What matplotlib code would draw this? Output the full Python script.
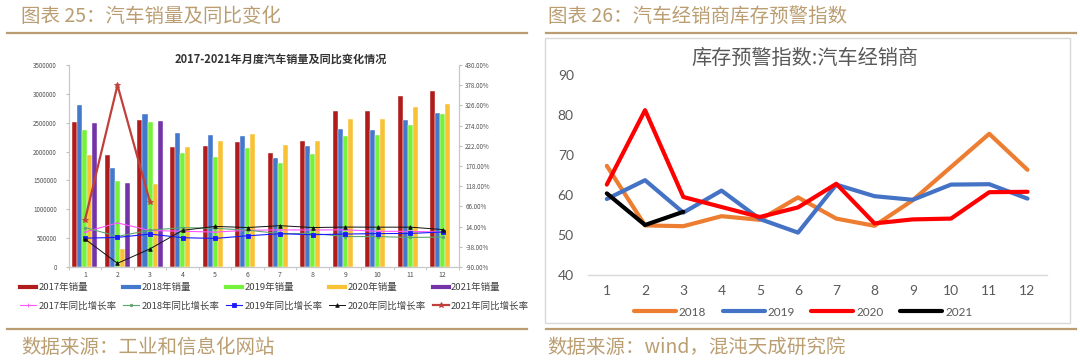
import matplotlib
matplotlib.use("Agg")
import matplotlib.pyplot as plt
from matplotlib.lines import Line2D
from matplotlib.patches import Rectangle
import numpy as np

plt.rcParams['font.family'] = ['Noto Sans CJK SC', 'DejaVu Sans']

W, H = 1080, 361

# ---- left chart data: monthly car sales and YoY growth ----
months = list(range(1, 13))
sales_2017 = [2518000, 1937000, 2542000, 2078000, 2092000, 2167000, 1969000, 2186000, 2710000, 2706000, 2960000, 3055000]
sales_2018 = [2810000, 1720000, 2653000, 2319000, 2288000, 2274000, 1888000, 2101000, 2394000, 2380000, 2548000, 2661000]
sales_2019 = [2367000, 1482000, 2520000, 1981000, 1913000, 2056000, 1805000, 1958000, 2271000, 2286000, 2458000, 2650000]
sales_2020 = [1941000, 310000, 1430000, 2073000, 2190000, 2301000, 2112000, 2188000, 2565000, 2573000, 2768000, 2832000]
sales_2021 = [2503000, 1455000, 2526000]

growth_2017 = [0.2, 23.5, 4.0, 2.0, -0.1, 4.5, 5.4, 5.3, 5.7, 1.9, 1.8, -0.1]
growth_2018 = [11.6, -11.1, 4.7, 11.5, 9.6, 4.8, -4.0, -3.8, -11.6, -11.7, -13.9, -13.0]
growth_2019 = [-15.8, -13.8, -5.2, -14.6, -16.4, -9.6, -4.3, -6.9, -5.2, -4.0, -3.6, 0.1]
growth_2020 = [-18.0, -80.5, -43.3, 4.4, 14.5, 11.6, 16.4, 11.6, 12.8, 12.5, 12.6, 6.4]
growth_2021 = [31.0, 378.0, 77.0]

# ---- right chart data: dealer inventory warning index ----
index_2018 = [67.3, 52.4, 52.2, 54.7, 53.8, 59.4, 54.1, 52.3, 58.7, 67.0, 75.3, 66.3]
index_2019 = [59.0, 63.7, 55.6, 61.1, 54.0, 50.6, 62.6, 59.7, 58.8, 62.6, 62.7, 59.1]
index_2020 = [62.6, 81.2, 59.5, 57.0, 54.5, 56.9, 62.8, 52.9, 53.9, 54.1, 60.7, 60.8]
index_2021 = [60.4, 52.5, 55.8]

TAN = '#BA9E72'
GRAY = '#595959'


def fx(x):
    return x / W


def fy(y):
    return 1 - y / H


fig = plt.figure(figsize=(W / 100, H / 100), dpi=100)

# ---- frame decorations ----
for x0, x1 in [(7, 527), (546, 1076)]:
    fig.add_artist(Line2D([fx(x0), fx(x1)], [fy(32.5), fy(32.5)], color=TAN, lw=1.6,
                          transform=fig.transFigure))
    fig.add_artist(Line2D([fx(x0), fx(x1)], [fy(328.5), fy(328.5)], color=TAN, lw=1.6,
                          transform=fig.transFigure))
fig.add_artist(Rectangle((fx(545), fy(323)), fx(1070) - fx(545), fy(38) - fy(323),
                         fill=False, edgecolor='#D9D9D9', lw=1, transform=fig.transFigure))

head = dict(fontsize=14, color=TAN, va='center', fontweight='light')
fig.text(fx(21), fy(16), '图表 25：汽车销量及同比变化', **head)
fig.text(fx(548), fy(16), '图表 26：汽车经销商库存预警指数', **head)
fig.text(fx(21), fy(347), '数据来源：工业和信息化网站', **head)
fig.text(fx(547), fy(347), '数据来源：wind，混沌天成研究院', **head)

# ---- left chart ----
ax = fig.add_axes([fx(68.7), fy(267), fx(459) - fx(68.7), fy(65) - fy(267)])
ax2 = ax.twinx()

bar_cols = ['#B01C1C', '#4478CC', '#77F23A', '#F9C235', '#7434A8']
bar_sets = [sales_2017, sales_2018, sales_2019, sales_2020, sales_2021]
bar_names = ['2017年销量', '2018年销量', '2019年销量', '2020年销量', '2021年销量']
bw = 0.154
for i, (vals, c) in enumerate(zip(bar_sets, bar_cols)):
    xs = np.arange(1, len(vals) + 1) + (i - 2) * bw
    ax.bar(xs, vals, width=bw, color=c, edgecolor='white', linewidth=0.3)

line_sets = [growth_2017, growth_2018, growth_2019, growth_2020, growth_2021]
line_cols = ['#FF55FF', '#5FA56F', '#1A1AFF', '#111111', '#C0403A']
line_mk = ['+', 'o', 's', '^', '*']
line_ms = [3, 1.8, 2.6, 2.6, 4]
line_lw = [0.8, 0.8, 0.8, 0.7, 1.6]
line_names = ['2017年同比增长率', '2018年同比增长率', '2019年同比增长率', '2020年同比增长率', '2021年同比增长率']
for vals, c, m, ms, lw in zip(line_sets, line_cols, line_mk, line_ms, line_lw):
    ax2.plot(np.arange(1, len(vals) + 1), vals, color=c, lw=lw, marker=m, ms=ms, mew=0.6)

ax.set_xlim(0.5, 12.5)
ax.set_ylim(0, 3500000)
ax.set_yticks(np.arange(0, 3500001, 500000))
ax.set_yticklabels([str(v) for v in range(0, 3500001, 500000)])
ax.set_xticks(months)
ax.set_xticks(np.arange(0.5, 12.6, 1), minor=True)
ax.tick_params(axis='x', which='major', length=0, pad=3, labelsize=5, labelcolor='#505050')
ax.tick_params(axis='x', which='minor', length=2.5, color='#BFBFBF')
ax.tick_params(axis='y', length=2.5, color='#BFBFBF', pad=6, labelsize=4.5, labelcolor='#505050')

ax2.set_ylim(-90, 430)
r_ticks = np.arange(-90, 431, 52)
ax2.set_yticks(r_ticks)
ax2.set_yticklabels(['%.2f%%' % v for v in r_ticks])
ax2.tick_params(axis='y', length=2.5, color='#BFBFBF', pad=2, labelsize=4.5, labelcolor='#505050')

for a in (ax, ax2):
    a.spines['top'].set_visible(False)
    for s in ('left', 'right', 'bottom'):
        a.spines[s].set_color('#C8C8C8')
        a.spines[s].set_linewidth(0.8)

fig.text(fx(281), fy(60), '2017-2021年月度汽车销量及同比变化情况', fontsize=8, fontweight='bold',
         color='#333333', ha='center', va='center')

handles, labels = [], []
for i in range(5):
    handles.append(Line2D([], [], color=bar_cols[i], lw=3))
    labels.append(bar_names[i])
    handles.append(Line2D([], [], color=line_cols[i], lw=line_lw[i], marker=line_mk[i],
                          ms=line_ms[i], mew=0.6))
    labels.append(line_names[i])
fig.legend(handles, labels, ncol=5, loc='upper left', bbox_to_anchor=(fx(20), fy(283)),
           frameon=False, fontsize=6.8, handlelength=1.7, handletextpad=0.25,
           columnspacing=0.7, labelspacing=1.0, borderpad=0, borderaxespad=0,
           labelcolor='#404040')

# ---- right chart ----
bx = fig.add_axes([fx(587.7), fy(275), fx(1046.6) - fx(587.7), fy(75) - fy(275)])
idx_sets = [index_2018, index_2019, index_2020, index_2021]
idx_cols = ['#ED7D31', '#4472C4', '#FF0000', '#000000']
idx_names = ['2018', '2019', '2020', '2021']
for vals, c, n in zip(idx_sets, idx_cols, idx_names):
    bx.plot(np.arange(1, len(vals) + 1), vals, color=c, lw=3, label=n,
            solid_capstyle='round', solid_joinstyle='round')

bx.set_xlim(0.5, 12.5)
bx.set_ylim(40, 90)
bx.set_yticks(np.arange(40, 91, 10))
bx.set_xticks(months)
for s in ('top', 'left', 'right'):
    bx.spines[s].set_visible(False)
bx.spines['bottom'].set_color('#D9D9D9')
bx.spines['bottom'].set_linewidth(1)
bx.tick_params(axis='both', length=0, labelsize=10, labelcolor=GRAY)
bx.tick_params(axis='x', pad=7)
bx.tick_params(axis='y', pad=10)
for lab in bx.get_xticklabels() + bx.get_yticklabels():
    lab.set_family(['Lato', 'DejaVu Sans'])

fig.text(fx(805), fy(58), '库存预警指数:汽车经销商', fontsize=14.5, color=GRAY,
         ha='center', va='center')

fig.legend(*bx.get_legend_handles_labels(), ncol=4, loc='center',
           bbox_to_anchor=(fx(803), fy(312)), frameon=False,
           prop={'family': ['Lato', 'DejaVu Sans'], 'size': 8.5},
           handlelength=3.56, handletextpad=0.25, columnspacing=1.4,
           borderpad=0, labelcolor=GRAY)

fig.savefig('out.png', dpi=100)
